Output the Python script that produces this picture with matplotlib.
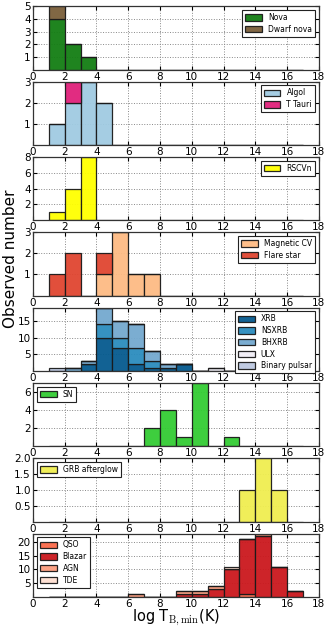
import matplotlib
matplotlib.use('Agg')
import matplotlib.pyplot as plt
import numpy as np

plt.rcParams['mathtext.fontset'] = 'cm'

# histogram bins in log T_B,min, 1..17
bins = np.arange(1, 18)

# counts per bin (bins 1-2, 2-3, ..., 16-17)
nova       = [4, 2, 1, 0, 0, 0, 0, 0, 0, 0, 0, 0, 0, 0, 0, 0]
dwarf_nova = [1, 0, 0, 0, 0, 0, 0, 0, 0, 0, 0, 0, 0, 0, 0, 0]

algol   = [1, 2, 3, 2, 0, 0, 0, 0, 0, 0, 0, 0, 0, 0, 0, 0]
t_tauri = [0, 1, 0, 0, 0, 0, 0, 0, 0, 0, 0, 0, 0, 0, 0, 0]

rscvn = [1, 4, 8, 0, 0, 0, 0, 0, 0, 0, 0, 0, 0, 0, 0, 0]

magnetic_cv = [0, 0, 0, 1, 3, 1, 1, 0, 0, 0, 0, 0, 0, 0, 0, 0]
flare_star  = [1, 2, 0, 1, 0, 0, 0, 0, 0, 0, 0, 0, 0, 0, 0, 0]

xrb           = [0, 0, 2, 10, 7, 2, 1, 1, 2, 0, 0, 0, 0, 0, 0, 0]
nsxrb         = [0, 0, 0, 4, 3, 5, 2, 0, 0, 0, 0, 0, 0, 0, 0, 0]
bhxrb         = [0, 1, 1, 5, 5, 7, 3, 1, 0, 0, 0, 0, 0, 0, 0, 0]
ulx           = [0, 0, 0, 0, 0, 0, 0, 0, 0, 0, 1, 0, 0, 0, 0, 0]
binary_pulsar = [1, 0, 0, 0, 0, 0, 0, 0, 0, 0, 0, 0, 0, 0, 0, 0]

sn = [0, 0, 0, 0, 0, 0, 2, 4, 1, 7, 0, 1, 0, 0, 0, 0]

grb = [0, 0, 0, 0, 0, 0, 0, 0, 0, 0, 0, 0, 1, 2, 1, 0]

qso    = [0, 0, 0, 0, 0, 0, 0, 0, 0, 0, 0, 0, 1, 0, 0, 0]
blazar = [0, 0, 0, 0, 0, 0, 0, 0, 1, 1, 3, 10, 20, 22, 11, 2]
agn    = [0, 0, 0, 0, 0, 1, 0, 0, 1, 1, 1, 0, 0, 1, 0, 0]
tde    = [0, 0, 0, 0, 0, 0, 0, 0, 0, 0, 0, 1, 0, 0, 0, 0]

panels = [
    ([nova, dwarf_nova], ['Nova', 'Dwarf nova'], ['#137d13', '#7a5f3a'], 'upper right', [1, 2, 3, 4, 5]),
    ([algol, t_tauri], ['Algol', 'T Tauri'], ['#a0cbe2', '#e0207a'], 'upper right', [1, 2, 3]),
    ([rscvn], ['RSCVn'], ['#ffff00'], 'upper right', [2, 4, 6, 8]),
    ([magnetic_cv, flare_star], ['Magnetic CV', 'Flare star'], ['#fdbb84', '#e04530'], 'upper right', [1, 2, 3]),
    ([xrb, nsxrb, bhxrb, ulx, binary_pulsar],
     ['XRB', 'NSXRB', 'BHXRB', 'ULX', 'Binary pulsar'],
     ['#055a8e', '#2b8cbe', '#74a9cf', '#f1eef6', '#bdc9e1'], 'upper right', [5, 10, 15]),
    ([sn], ['SN'], ['#33cc33'], 'upper left', [2, 4, 6]),
    ([grb], ['GRB afterglow'], ['#f0ee50'], 'upper left', [0.5, 1.0, 1.5, 2.0]),
    ([qso, blazar, agn, tde], ['QSO', 'Blazar', 'AGN', 'TDE'],
     ['#fb6a4a', '#cb181d', '#fc9d7f', '#fee0d2'], 'upper left', [5, 10, 15, 20]),
]

fig, axes = plt.subplots(8, 1, figsize=(3.36, 6.29), dpi=100)
fig.subplots_adjust(left=0.098, right=0.949, top=0.990, bottom=0.051, hspace=0.19)

left = bins[:-1]
width = np.diff(bins)

for ax, (series, labels, colors, loc, yt) in zip(axes, panels):
    bottom = np.zeros(len(left))
    for s, lab, c in zip(series, labels, colors):
        s = np.array(s, dtype=float)
        ax.bar(left, s, width, bottom=bottom, align='edge', color=c,
               edgecolor='#1a1a1a', linewidth=0.9, alpha=0.95, label=lab, zorder=2)
        bottom += s
    ax.set_xlim(0, 18)
    ax.set_ylim(0, bottom.max())
    ax.set_xticks(np.arange(0, 19, 2))
    ax.set_yticks(yt)
    ax.grid(True, color='#888888', linestyle=':', linewidth=0.7, zorder=0)
    ax.set_axisbelow(True)
    ax.tick_params(direction='in', top=True, right=True, labelsize=7.5, length=3, pad=1.5)
    for sp in ax.spines.values():
        sp.set_linewidth(0.9)
        sp.set_color('#333333')
    leg = ax.legend(loc=loc, fontsize=5.5, fancybox=False, framealpha=1,
                    handlelength=2.2, handleheight=0.9, borderpad=0.4, labelspacing=0.35)
    leg.get_frame().set_edgecolor('#222222')
    leg.get_frame().set_linewidth(0.8)

fig.text(0.03, 0.588, 'Observed number', rotation=90, va='center', ha='center', fontsize=11)
fig.text(0.524, 0.017, r'log T$_{\rm B,min}$(K)', va='center', ha='center', fontsize=10.5)

fig.savefig('out.png', dpi=100)
